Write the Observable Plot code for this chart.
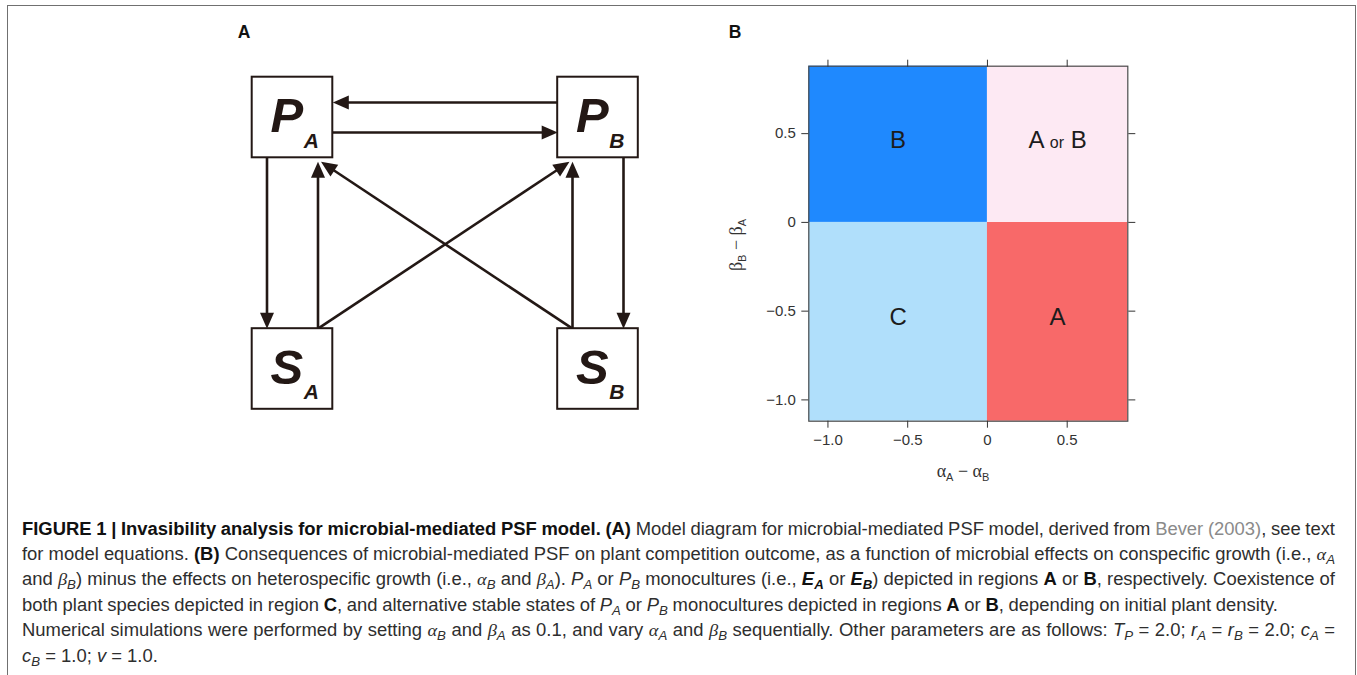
<!DOCTYPE html>
<html><head><meta charset="utf-8">
<script src="https://cdn.jsdelivr.net/npm/d3@7"></script>
<script src="https://cdn.jsdelivr.net/npm/@observablehq/plot@0.6"></script>
<style>
html,body{margin:0;padding:0;background:#fff;}
#fig{position:relative;width:1357px;height:675px;overflow:hidden;font-family:"Liberation Sans",Arial,sans-serif;}
#frame{position:absolute;left:7.2px;top:5.2px;width:1349px;height:740px;border:1.6px solid #707070;box-sizing:border-box;}
.plabel{position:absolute;font-weight:bold;font-size:17.5px;line-height:17px;color:#111;transform:translateX(-50%);}
#panelA{position:absolute;left:0;top:0;}
#panelB{position:absolute;left:700px;top:0;}
.cap{position:absolute;left:22px;white-space:nowrap;font-family:"Liberation Sans Narrow","Liberation Sans",Arial,sans-serif;font-size:17.5px;line-height:25.4px;color:#2e2e2e;transform-origin:0 50%;}
.cap b{color:#111;}
.cap .ref{color:#8a8a8a;}
.cap .g{font-family:"Liberation Serif","DejaVu Serif",serif;font-style:italic;}
.cap i{font-style:italic;}
.cap sub{font-size:72%;vertical-align:-0.28em;line-height:0;font-style:italic;font-family:"Liberation Sans",Arial,sans-serif;}
</style></head>
<body>
<div id="fig">
  <div id="frame"></div>
  <div id="panelA"></div>
  <div id="panelB"></div>
  <div class="plabel" style="left:244px;top:24.4px">A</div>
  <div class="plabel" style="left:735px;top:24.4px">B</div>
</div>
<script>
// ---------- Panel A: diagram data ----------
const nodes = [
  {id: "PA", letter: "P", sub: "A", col: 0, row: 0},
  {id: "PB", letter: "P", sub: "B", col: 1, row: 0},
  {id: "SA", letter: "S", sub: "A", col: 0, row: 1},
  {id: "SB", letter: "S", sub: "B", col: 1, row: 1}
];
const edges = [
  {from: "PB", to: "PA", lane: -1},
  {from: "PA", to: "PB", lane: 1},
  {from: "PA", to: "SA", lane: -1},
  {from: "SA", to: "PA", lane: 1},
  {from: "SB", to: "PB", lane: -1},
  {from: "PB", to: "SB", lane: 1},
  {from: "SA", to: "PB", lane: 0},
  {from: "SB", to: "PA", lane: 0}
];

// ---------- Panel B: heatmap data ----------
const xBreaks = [-1.12, 0, 0.88];
const yBreaks = [-1.12, 0, 0.88];
const regionGrid = [["C", "A"], ["B", "A or B"]]; // rows bottom->top, cols left->right
const regionNames = ["B", "A or B", "C", "A"];
const xTicks = [-1, -0.5, 0, 0.5];
const yTicks = [-1, -0.5, 0, 0.5];

// ---------- Caption ----------
const captionLines = [
  '<b>FIGURE 1 | Invasibility analysis for microbial-mediated PSF model. (A)</b> Model diagram for microbial-mediated PSF model, derived from <span class="ref">Bever (2003)</span>, see text',
  'for model equations. <b>(B)</b> Consequences of microbial-mediated PSF on plant competition outcome, as a function of microbial effects on conspecific growth (i.e., <span class="g">α<sub>A</sub></span>',
  'and <span class="g">β<sub>B</sub></span>) minus the effects on heterospecific growth (i.e., <span class="g">α<sub>B</sub></span> and <span class="g">β<sub>A</sub></span>). <i>P<sub>A</sub></i> or <i>P<sub>B</sub></i> monocultures (i.e., <b><i>E<sub>A</sub></i></b> or <b><i>E<sub>B</sub></i></b>) depicted in regions <b>A</b> or <b>B</b>, respectively. Coexistence of',
  'both plant species depicted in region <b>C</b>, and alternative stable states of <i>P<sub>A</sub></i> or <i>P<sub>B</sub></i> monocultures depicted in regions <b>A</b> or <b>B</b>, depending on initial plant density.',
  'Numerical simulations were performed by setting <span class="g">α<sub>B</sub></span> and <span class="g">β<sub>A</sub></span> as 0.1, and vary <span class="g">α<sub>A</sub></span> and <span class="g">β<sub>B</sub></span> sequentially. Other parameters are as follows: <i>T<sub>P</sub></i> = 2.0; <i>r<sub>A</sub></i> = <i>r<sub>B</sub></i> = 2.0; <i>c<sub>A</sub></i> =',
  '<i>c<sub>B</sub></i> = 1.0; <i>v</i> = 1.0.'
];

// ---------- Panel A rendering ----------
const ink = "#231815";
const sx = d3.scaleLinear([0, 1], [292, 597.5]);
const sy = d3.scaleLinear([0, 1], [117, 368.5]);
const half = 40.3, hLane = 15, vLane = 25.5, gap = 4, diagInset = 28.5, headLen = 16, headR = 7;
const byId = Object.fromEntries(nodes.map(n => [n.id, n]));

const edgeGeo = edges.map(e => {
  const a = byId[e.from], b = byId[e.to];
  const ax = sx(a.col), ay = sy(a.row), bx = sx(b.col), by = sy(b.row);
  let p1, p2;
  if (a.row === b.row) {
    const dir = Math.sign(bx - ax), yy = ay + e.lane * hLane;
    p1 = [ax + dir * half, yy]; p2 = [bx - dir * half, yy];
  } else if (a.col === b.col) {
    const dir = Math.sign(by - ay), xx = ax + e.lane * vLane;
    p1 = [xx, ay + dir * half]; p2 = [xx, by - dir * (half + (dir < 0 ? gap : 0))];
  } else {
    const dY = Math.sign(by - ay), dX = Math.sign(bx - ax);
    p1 = [ax + dX * vLane, ay + dY * half];
    p2 = [bx - dX * diagInset, by - dY * (half + gap)];
  }
  const dx = p2[0] - p1[0], dy = p2[1] - p1[1], L = Math.hypot(dx, dy);
  const s2 = [p2[0] - dx / L * (headLen - 3), p2[1] - dy / L * (headLen - 3)];
  return {
    x1: sx.invert(p1[0]), y1: sy.invert(p1[1]),
    x2: sx.invert(s2[0]), y2: sy.invert(s2[1]),
    tx: sx.invert(p2[0]), ty: sy.invert(p2[1]),
    angle: Math.atan2(dx, -dy) * 180 / Math.PI
  };
});

const boxes = nodes.map(n => ({
  ...n,
  label: n.letter + n.sub,
  bx1: sx.invert(sx(n.col) - half), bx2: sx.invert(sx(n.col) + half),
  by1: sy.invert(sy(n.row) - half), by2: sy.invert(sy(n.row) + half)
}));

const plotA = Plot.plot({
  width: 700, height: 480,
  marginTop: 0, marginRight: 0, marginBottom: 0, marginLeft: 0,
  x: {domain: [0, 1], range: [292, 597.5], axis: null},
  y: {domain: [0, 1], range: [117, 368.5], axis: null},
  style: {background: "transparent", fontFamily: "Liberation Sans, Arial, sans-serif", overflow: "visible"},
  marks: [
    Plot.link(edgeGeo, {x1: "x1", y1: "y1", x2: "x2", y2: "y2", stroke: ink, strokeWidth: 2.6, strokeLinecap: "butt"}),
    Plot.vector(edgeGeo, {x: "tx", y: "ty", rotate: "angle", length: headLen, r: headR, shape: "spike", anchor: "end", fill: ink, stroke: "none", fillOpacity: 1}),
    Plot.rect(boxes, {x1: "bx1", x2: "bx2", y1: "by1", y2: "by2", fill: "white", stroke: ink, strokeWidth: 2}),
    Plot.text(boxes, {x: "col", y: "row", text: "label", textAnchor: "start", dx: -22, dy: 14.7, lineAnchor: "bottom", fontSize: 49, fontWeight: "bold", fontStyle: "italic", fill: ink})
  ]
});
document.getElementById("panelA").appendChild(plotA);

// node labels: letter + smaller subscript in one text element
const subOf = Object.fromEntries(boxes.map(b => [b.label, b]));
d3.select(plotA).selectAll("text").filter(function() { return subOf[this.textContent]; })
  .each(function() {
    const b = subOf[this.textContent];
    const t = d3.select(this); t.text("");
    t.append("tspan").text(b.letter);
    t.append("tspan").attr("font-size", 21).attr("dx", 0.5).attr("dy", 15.6).text(b.sub);
  });

// ---------- Panel B rendering ----------
const cells = [];
regionGrid.forEach((row, i) => row.forEach((region, j) => {
  cells.push({region, x1: xBreaks[j], x2: xBreaks[j + 1], y1: yBreaks[i], y2: yBreaks[i + 1]});
}));
const fmt = d => d === 0 ? "0" : d3.format(".1f")(d);
const axisInk = "#333";
const plotB = Plot.plot({
  width: 460, height: 500,
  marginLeft: 108.3, marginTop: 65.7, marginRight: 32.7, marginBottom: 79.3,
  x: {domain: [xBreaks[0], xBreaks[2]]},
  y: {domain: [yBreaks[0], yBreaks[2]]},
  color: {domain: regionNames, range: ["#1f89fe", "#fde9f3", "#b0dffb", "#f86969"]},
  style: {background: "transparent", fontFamily: "Liberation Sans, Arial, sans-serif", overflow: "visible"},
  marks: [
    Plot.rect(cells, {x1: "x1", x2: "x2", y1: "y1", y2: "y2", fill: "region"}),
    Plot.text(cells, {x: d => (d.x1 + d.x2) / 2, y: d => (d.y1 + d.y2) / 2, text: "region", fontSize: 24, dy: -4, fill: "#1c1c1c"}),
    Plot.frame({stroke: "#4a4a4a", strokeWidth: 1.2}),
    Plot.axisX(xTicks, {anchor: "bottom", tickSize: 7, tickPadding: 6, tickFormat: fmt, fontSize: 15, label: null, color: axisInk}),
    Plot.axisX(xTicks, {anchor: "top", tickSize: 7, tickFormat: () => "", label: null, color: axisInk}),
    Plot.axisY(yTicks, {anchor: "left", tickSize: 7, tickPadding: 6, tickFormat: fmt, fontSize: 15, label: null, color: axisInk}),
    Plot.axisY(yTicks, {anchor: "right", tickSize: 7, tickFormat: () => "", label: null, color: axisInk})
  ]
});
document.getElementById("panelB").appendChild(plotB);

// "A or B": smaller "or"
d3.select(plotB).selectAll("text").filter(function() { return this.textContent === "A or B"; })
  .each(function() {
    const t = d3.select(this); t.text("");
    t.append("tspan").text("A ");
    t.append("tspan").attr("font-size", 16).text("or");
    t.append("tspan").text(" B");
  });

// axis titles with subscripts
const svgB = d3.select(plotB);
function mathLabel(sel, g1, s1, g2, s2) {
  sel.append("tspan").text(g1);
  sel.append("tspan").attr("dy", 4).attr("font-size", 11).attr("font-family", "Liberation Sans, Arial, sans-serif").text(s1);
  sel.append("tspan").attr("dy", -4).text(" − " + g2);
  sel.append("tspan").attr("dy", 4).attr("font-size", 11).attr("font-family", "Liberation Sans, Arial, sans-serif").text(s2);
}
const xt = svgB.append("text").attr("x", 263).attr("y", 477).attr("text-anchor", "middle")
  .attr("font-size", 18).attr("fill", axisInk).attr("font-family", "Liberation Serif, serif");
mathLabel(xt, "α", "A", "α", "B");
const yt = svgB.append("text").attr("transform", "translate(42,245) rotate(-90)").attr("text-anchor", "middle")
  .attr("font-size", 18).attr("fill", axisInk).attr("font-family", "Liberation Serif, serif");
mathLabel(yt, "β", "B", "β", "A");

// ---------- Caption layout ----------
const fig = document.getElementById("fig");
const capTop = 516.5, capLead = 25.4;
const capTargets = [1313, 1313, 1313, 1256, 1313, null];
const capEls = captionLines.map((html, i) => {
  const d = document.createElement("div");
  d.className = "cap";
  d.innerHTML = html;
  d.style.top = (capTop + i * capLead) + "px";
  fig.appendChild(d);
  return d;
});
const widths = capEls.map(el => el.getBoundingClientRect().width);
const ratios = capTargets.map((t, i) => t ? t / widths[i] : null).filter(r => r);
const s = d3.median(ratios);
capEls.forEach((el, i) => {
  const t = capTargets[i];
  if (t) {
    const spaces = (el.textContent.match(/ /g) || []).length;
    const extra = (t / s - widths[i]) / spaces;
    el.style.wordSpacing = extra + "px";
  }
  el.style.transform = `scaleX(${s})`;
});
</script>
</body></html>
